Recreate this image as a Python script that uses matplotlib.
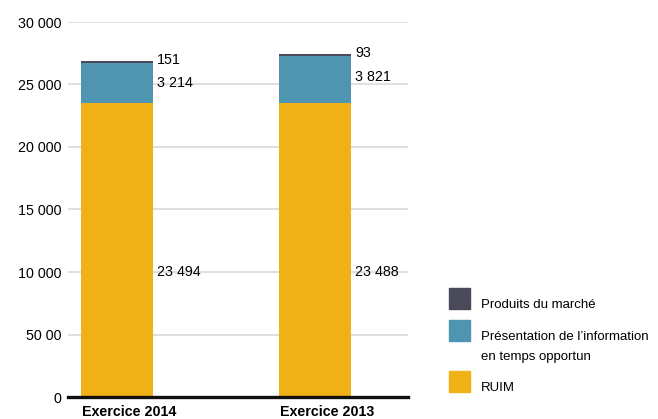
import matplotlib
matplotlib.use("Agg")
import matplotlib.pyplot as plt
from matplotlib.patches import Rectangle

categories = ["Exercice 2014", "Exercice 2013"]
ruim = [23494, 23488]
info = [3214, 3821]
produits = [151, 93]
ruim_labels = ["23 494", "23 488"]
info_labels = ["3 214", "3 821"]
produits_labels = ["151", "93"]
yticks = [0, 5000, 10000, 15000, 20000, 25000, 30000]
ytick_labels = ["0", "50 00", "10 000", "15 000", "20 000", "25 000", "30 000"]
series_names = ["Produits du marché", "Présentation de l\u2019information\nen temps opportun", "RUIM"]

c_dark = "#4b4a5a"
c_blue = "#4f95b2"
c_yellow = "#efb115"
series_colors = [c_dark, c_blue, c_yellow]

plt.rcParams["font.family"] = ["Liberation Sans", "DejaVu Sans"]

W, H = 658, 419
fig = plt.figure(figsize=(W / 100, H / 100), dpi=100)
ax = fig.add_axes([68 / W, 22 / H, 340 / W, 375 / H])

x = [0, 1]
w = 0.364
ax.bar(x, ruim, w, color=c_yellow, zorder=3)
ax.bar(x, info, w, bottom=ruim, color=c_blue, zorder=3)
tops = [r + i for r, i in zip(ruim, info)]
ax.bar(x, produits, w, bottom=tops, color=c_dark, zorder=3)

for xi, r, i, p, rl, il, pl in zip(x, ruim, info, produits, ruim_labels, info_labels, produits_labels):
    tx = xi + w / 2 + 0.02
    top = r + i + p
    ax.annotate(pl, (tx, top), xytext=(0, 1), textcoords="offset points",
                ha="left", va="center", fontsize=10.3)
    ax.annotate(il, (tx, top), xytext=(0, -16), textcoords="offset points",
                ha="left", va="center", fontsize=10.3)
    ax.annotate(rl, (tx, r * 0.425), ha="left", va="center", fontsize=10.3)

ax.set_xlim(-0.247, 1.47)
ax.set_ylim(0, 30000)
ax.set_yticks(yticks)
ax.set_yticklabels(ytick_labels, fontsize=10.3)
# category labels start at the left edge of each bar
ax.set_xticks([xi - w / 2 + 0.005 for xi in x])
ax.set_xticklabels(categories, fontsize=10.3, fontweight="bold", ha="left")
ax.tick_params(axis="both", length=0)
ax.tick_params(axis="y", pad=5)
ax.tick_params(axis="x", pad=6)
ax.grid(axis="y", color="#d9d9d9", linewidth=1.2, zorder=0)
for s in ["top", "right", "left"]:
    ax.spines[s].set_visible(False)
ax.spines["bottom"].set_linewidth(2.4)
ax.spines["bottom"].set_color("#111111")
ax.spines["bottom"].set_zorder(5)

# legend: colour squares, first text line sitting on the square's bottom edge
box_tops = [288, 320, 371]
for top, color, name in zip(box_tops, series_colors, series_names):
    fig.add_artist(Rectangle((449 / W, 1 - (top + 21) / H), 21 / W, 21 / H,
                             transform=fig.transFigure, color=color))
    for k, line in enumerate(name.split("\n")):
        fig.text(481 / W, 1 - (top + 20 + 20 * k) / H, line, ha="left",
                 va="baseline", fontsize=9.5)

fig.savefig("out.png", dpi=100)
